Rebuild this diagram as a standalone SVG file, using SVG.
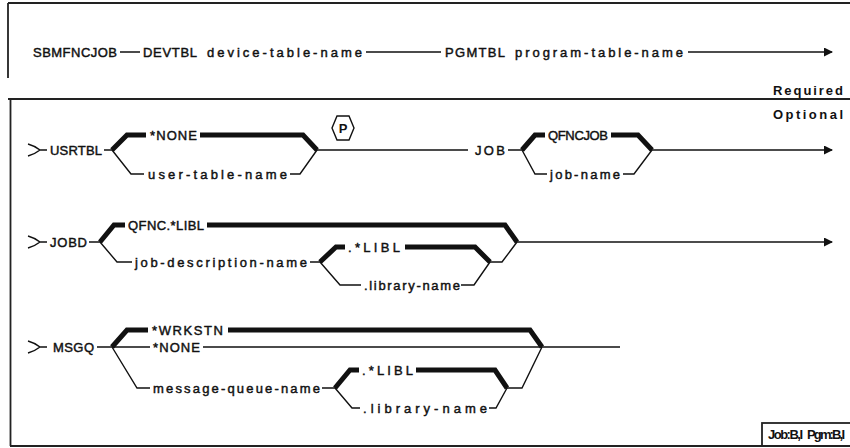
<svg xmlns="http://www.w3.org/2000/svg" width="850" height="448" viewBox="0 0 850 448">
<style>
.t{font-family:"Liberation Sans",Arial,Helvetica,sans-serif;font-size:13px;fill:#111;stroke:#111;stroke-width:0.45}
.b{font-weight:bold;stroke-width:0}
.thin{stroke:#111;stroke-width:1.4;fill:none}
.thick{stroke:#111;stroke-width:5;fill:none;stroke-linejoin:miter}
.bd{stroke:#222;stroke-width:1.8;fill:none}
</style>
<defs>
<marker id="ah" markerUnits="userSpaceOnUse" markerWidth="9" markerHeight="9" refX="8" refY="4.5" orient="auto">
<path d="M0,0 L9,4.5 L0,9 z" fill="#111"/>
</marker>
</defs>
<rect width="850" height="448" fill="#fff"/>
<g id="frame">
<path class="bd" d="M8,3 H850 M8,3 V78 M8,99 H850 M10.5,99 V446 M10,446 H850"/>
</g>
<g id="connectors">
<path class="thin" d="M120,52 H140 M366,52 H441"/>
<path class="thin" d="M688,52 H832" marker-end="url(#ah)"/>
<path class="thin" d="M28,144 Q35,146 40,150 M28,156 Q35,154 40,150 M40,150 H47"/>
<path class="thin" d="M104,150 H112 M112,150 L131,174 H144 M290,174 H300 L317,150 M317,150 H468 M508,150 H522 M522,150 L535,174 H547 M623,174 H634 L652,150"/>
<path class="thin" d="M652,150 H832" marker-end="url(#ah)"/>
<path class="thick" d="M112,150 L127,135 H146 M200,135 H303 L317,150 M522,150 L535,135 H545 M611,135 H638 L652,150"/>
<path class="thin" d="M28,236 Q35,238 40,242 M28,248 Q35,246 40,242 M40,242 H47"/>
<path class="thin" d="M89,242 H100 M100,242 L117,262 H132 M310,262 H320 M320,262 L340,285 H361 M461,285 H474 L490,262 M490,262 H502 L517,242"/>
<path class="thin" d="M517,242 H832" marker-end="url(#ah)"/>
<path class="thick" d="M100,242 L114,225 H125 M207,225 H505 L517,242 M320,262 L336,247 H345 M405,247 H475 L490,262"/>
<path class="thin" d="M28,341 Q35,343 40,347 M28,353 Q35,351 40,347 M40,347 H47"/>
<path class="thin" d="M97,347 H150 M203,347 H620 M112,347 L137,388 H150 M322,388 H335 M335,388 L352,408 H360 M489,408 H496 L507,388 M507,388 H522 L542,347"/>
<path class="thick" d="M112,347 L127,330 H148 M228,330 H530 L542,347 M335,388 L350,370 H359 M416,370 H495 L507,388"/>
</g>
<g id="n-sbmfncjob"><text class="t" x="33" y="57" textLength="84" lengthAdjust="spacing">SBMFNCJOB</text></g>
<g id="n-devtbl"><text class="t" x="143" y="57" textLength="54" lengthAdjust="spacing">DEVTBL</text><text class="t" x="207" y="57" textLength="155" lengthAdjust="spacing">device-table-name</text></g>
<g id="n-pgmtbl"><text class="t" x="445" y="57" textLength="60" lengthAdjust="spacing">PGMTBL</text><text class="t" x="515" y="57" textLength="168" lengthAdjust="spacing">program-table-name</text></g>
<g id="n-required"><text class="t b" x="773" y="95" textLength="70" lengthAdjust="spacing">Required</text></g>
<g id="n-optional"><text class="t b" x="773" y="119" textLength="70" lengthAdjust="spacing">Optional</text></g>
<g id="n-usrtbl"><text class="t" x="50" y="155" textLength="52" lengthAdjust="spacing">USRTBL</text></g>
<g id="n-usrtbl-none"><text class="t" x="150" y="140" textLength="47" lengthAdjust="spacing">*NONE</text></g>
<g id="n-user-table-name"><text class="t" x="148" y="179" textLength="139" lengthAdjust="spacing">user-table-name</text></g>
<g id="n-p"><polygon class="thin" points="332,128 337,116 349,116 354,128 349,140 337,140"/><text class="t b" x="343" y="133" text-anchor="middle" font-size="13">P</text></g>
<g id="n-job"><text class="t" x="475" y="155" textLength="30" lengthAdjust="spacing">JOB</text></g>
<g id="n-qfncjob"><text class="t" x="548" y="140" textLength="60" lengthAdjust="spacing" font-size="12">QFNCJOB</text></g>
<g id="n-job-name"><text class="t" x="550" y="179" textLength="70" lengthAdjust="spacing">job-name</text></g>
<g id="n-jobd"><text class="t" x="50" y="247" textLength="37" lengthAdjust="spacing">JOBD</text></g>
<g id="n-qfnc-libl"><text class="t" x="128" y="230" textLength="76" lengthAdjust="spacing" font-size="12.5">QFNC.*LIBL</text></g>
<g id="n-job-description-name"><text class="t" x="135" y="267" textLength="172" lengthAdjust="spacing">job-description-name</text></g>
<g id="n-jobd-libl"><text class="t" x="348" y="252" textLength="52" lengthAdjust="spacing">.*LIBL</text></g>
<g id="n-jobd-library-name"><text class="t" x="364" y="290" textLength="96" lengthAdjust="spacing">.library-name</text></g>
<g id="n-msgq"><text class="t" x="53" y="352" textLength="41" lengthAdjust="spacing">MSGQ</text></g>
<g id="n-wrkstn"><text class="t" x="152" y="335" textLength="71" lengthAdjust="spacing">*WRKSTN</text></g>
<g id="n-msgq-none"><text class="t" x="153" y="352" textLength="47" lengthAdjust="spacing">*NONE</text></g>
<g id="n-message-queue-name"><text class="t" x="153" y="393" textLength="167" lengthAdjust="spacing">message-queue-name</text></g>
<g id="n-msgq-libl"><text class="t" x="362" y="375" textLength="51" lengthAdjust="spacing">.*LIBL</text></g>
<g id="n-msgq-library-name"><text class="t" x="363" y="413" textLength="124" lengthAdjust="spacing">.library-name</text></g>
<g id="n-jobpgm"><rect class="bd" x="762" y="423" width="90" height="23"/><text class="t b" x="768" y="439" textLength="35" lengthAdjust="spacing" font-size="10.5">Job:B,I</text><text class="t b" x="807" y="439" textLength="38" lengthAdjust="spacing" font-size="10.5">Pgm:B,I</text></g>
</svg>
